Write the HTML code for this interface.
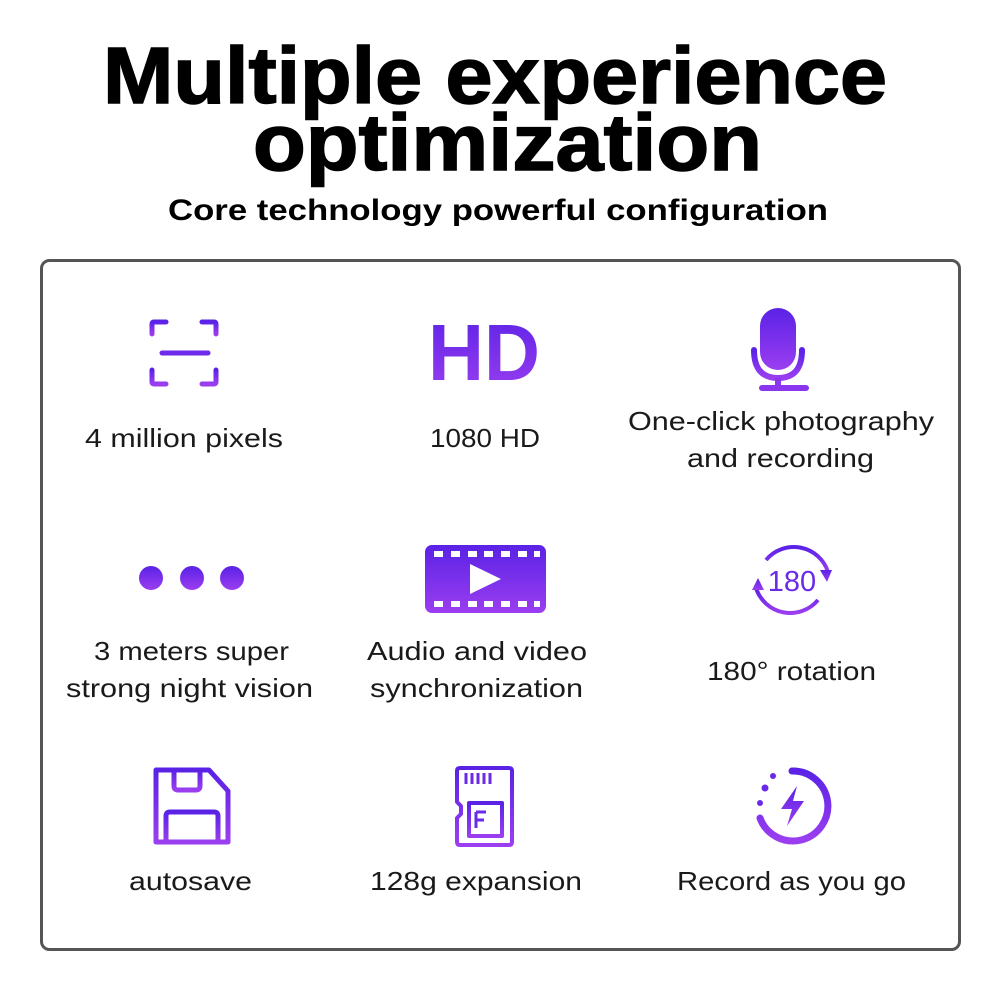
<!DOCTYPE html>
<html><head><meta charset="utf-8"><style>
html,body{margin:0;padding:0;background:#fff;width:1000px;height:1000px;overflow:hidden}
svg{display:block}
.t{font-family:"Liberation Sans",sans-serif;font-weight:bold;fill:#000}
.l{font-family:"Liberation Sans",sans-serif;font-size:26px;fill:#1a1a1a}
</style></head><body>
<svg width="1000" height="1000" viewBox="0 0 1000 1000" xmlns="http://www.w3.org/2000/svg">
<defs>
<linearGradient id="g" x1="0" y1="0" x2="0" y2="1">
<stop offset="0" stop-color="#5a22e6"/><stop offset="1" stop-color="#9b3ef0"/>
</linearGradient>
</defs>
<text class="t" x="103" y="103" font-size="80" textLength="784" lengthAdjust="spacingAndGlyphs" stroke="#000" stroke-width="1.5">Multiple experience</text>
<text class="t" x="253" y="170" font-size="80" textLength="509" lengthAdjust="spacingAndGlyphs" stroke="#000" stroke-width="1.5">optimization</text>
<text class="t" x="168" y="220" font-size="30" textLength="660" lengthAdjust="spacingAndGlyphs">Core technology powerful configuration</text>
<rect x="41.5" y="260.5" width="918" height="689" rx="8" fill="none" stroke="#555" stroke-width="3"/>

<!-- icon1 brackets -->
<g fill="none" stroke="url(#g)" stroke-width="5" stroke-linecap="round">
<path d="M152 334V324Q152 322 154 322H166"/><path d="M202 322H214Q216 322 216 324V334"/>
<path d="M152 370V382Q152 384 154 384H166"/><path d="M202 384H214Q216 384 216 382V370"/>
</g>
<path d="M162 353H208" stroke="#6e2aea" stroke-width="5" stroke-linecap="round"/>
<text x="484" y="380" text-anchor="middle" font-family="Liberation Sans,sans-serif" font-weight="bold" font-size="80" fill="url(#g)" textLength="112" lengthAdjust="spacingAndGlyphs">HD</text>
<!-- mic -->
<rect x="760" y="308" width="36" height="62" rx="18" fill="url(#g)"/>
<path d="M754 350Q754 378 778 378Q802 378 802 350" fill="none" stroke="url(#g)" stroke-width="6" stroke-linecap="round"/>
<path d="M778 378V388" stroke="#8a36ee" stroke-width="6"/>
<path d="M762 388H806" stroke="#8a36ee" stroke-width="6" stroke-linecap="round"/>
<!-- dots -->
<circle cx="151" cy="578" r="12" fill="url(#g)"/><circle cx="192" cy="578" r="12" fill="url(#g)"/><circle cx="232" cy="578" r="12" fill="url(#g)"/>
<!-- video -->
<rect x="425" y="545" width="121" height="68" rx="7" fill="url(#g)"/>
<g fill="#fff">
<rect x="434" y="551" width="9" height="6"/><rect x="451" y="551" width="9" height="6"/><rect x="468" y="551" width="9" height="6"/><rect x="484" y="551" width="9" height="6"/><rect x="501" y="551" width="9" height="6"/><rect x="518" y="551" width="9" height="6"/><rect x="534" y="551" width="6" height="6"/>
<rect x="434" y="601" width="9" height="6"/><rect x="451" y="601" width="9" height="6"/><rect x="468" y="601" width="9" height="6"/><rect x="484" y="601" width="9" height="6"/><rect x="501" y="601" width="9" height="6"/><rect x="518" y="601" width="9" height="6"/><rect x="534" y="601" width="6" height="6"/>
<path d="M470 564L501 579L470 594Z"/>
</g>
<!-- 180 -->
<path d="M766 560A36 36 0 0 1 828 572" fill="none" stroke="url(#g)" stroke-width="4"/>
<path d="M820 570L832 570L827 582Z" fill="url(#g)"/>
<path d="M818 600A36 36 0 0 1 756 588" fill="none" stroke="url(#g)" stroke-width="4"/>
<path d="M752 590L764 590L758 578Z" fill="url(#g)"/>
<text x="792" y="591" text-anchor="middle" font-family="Liberation Sans,sans-serif" font-size="29" fill="#6a2ae8">180</text>
<!-- floppy -->
<g fill="none" stroke="url(#g)" stroke-width="5" stroke-linejoin="round">
<path d="M156 770H209L228 791V842H156Z"/>
<path d="M174 770V786Q174 790 178 790H196Q200 790 200 786V770"/>
<path d="M166 842V816Q166 812 170 812H214Q218 812 218 816V842"/>
</g>
<!-- sd -->
<g fill="none" stroke="url(#g)" stroke-width="4" stroke-linejoin="round">
<path d="M460 768H509Q512 768 512 771V842Q512 845 509 845H460Q457 845 457 842V818L461 814V806L457 802V771Q457 768 460 768Z"/>
<rect x="469" y="803" width="33" height="33"/>
</g>
<g stroke="#6a2ae8" stroke-width="3" fill="none">
<path d="M466 773V784M472 773V784M478 773V784M484 773V784M490 773V784"/>
<path d="M476 812H486M476 820H484M476 812V828"/>
</g>
<!-- record -->
<path d="M792 771A35 35 0 1 1 760 818" fill="none" stroke="url(#g)" stroke-width="7" stroke-linecap="round"/>
<circle cx="765" cy="788" r="3.5" fill="#6a2ae8"/><circle cx="773" cy="776" r="3" fill="#6a2ae8"/><circle cx="760" cy="803" r="3" fill="#6a2ae8"/>
<path d="M797 786L781 809H792L787 826L804 801H793Z" fill="url(#g)"/>

<!-- labels -->
<text class="l" x="85" y="447" textLength="198" lengthAdjust="spacingAndGlyphs">4 million pixels</text>
<text class="l" x="430" y="447" textLength="110" lengthAdjust="spacingAndGlyphs">1080 HD</text>
<text class="l" x="628" y="430" textLength="306" lengthAdjust="spacingAndGlyphs">One-click photography</text>
<text class="l" x="687" y="467" textLength="187" lengthAdjust="spacingAndGlyphs">and recording</text>
<text class="l" x="94" y="660" textLength="195" lengthAdjust="spacingAndGlyphs">3 meters super</text>
<text class="l" x="66" y="697" textLength="247" lengthAdjust="spacingAndGlyphs">strong night vision</text>
<text class="l" x="367" y="660" textLength="220" lengthAdjust="spacingAndGlyphs">Audio and video</text>
<text class="l" x="370" y="697" textLength="213" lengthAdjust="spacingAndGlyphs">synchronization</text>
<text class="l" x="707" y="680" textLength="169" lengthAdjust="spacingAndGlyphs">180° rotation</text>
<text class="l" x="129" y="890" textLength="123" lengthAdjust="spacingAndGlyphs">autosave</text>
<text class="l" x="370" y="890" textLength="212" lengthAdjust="spacingAndGlyphs">128g expansion</text>
<text class="l" x="677" y="890" textLength="229" lengthAdjust="spacingAndGlyphs">Record as you go</text>
</svg>
</body></html>
